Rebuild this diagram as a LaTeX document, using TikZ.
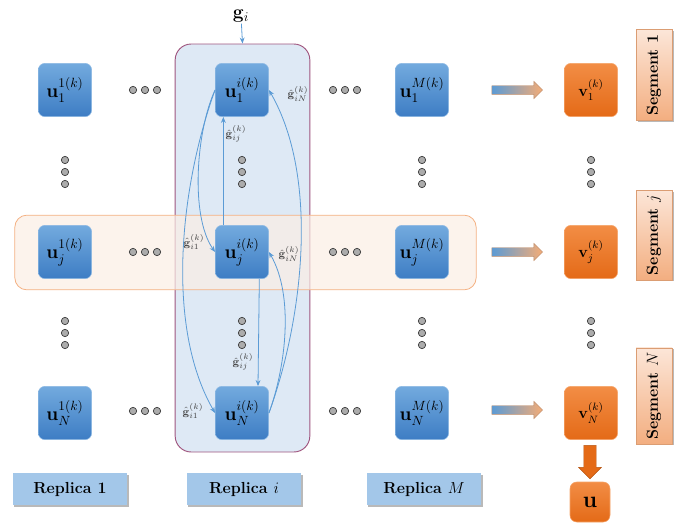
\documentclass[tikz,border=0pt]{standalone}
\usepackage{amsmath}
\usepackage{amssymb}
\usepackage{tikz}
\usetikzlibrary{arrows.meta,shapes.arrows,shadows}

\definecolor{ublueTop}{HTML}{73AADE}
\definecolor{ublueBot}{HTML}{3D7DC4}
\definecolor{ublueLine}{HTML}{8DB9E3}
\definecolor{vorTop}{HTML}{F28D45}
\definecolor{vorBot}{HTML}{E46A17}
\definecolor{repBlue}{HTML}{A3C7E9}
\definecolor{colBg}{HTML}{DEE9F5}
\definecolor{colLine}{HTML}{A0567F}
\definecolor{rowBg}{HTML}{FBEEE4}
\definecolor{rowLine}{HTML}{F4B183}
\definecolor{segLight}{HTML}{FCE6D8}
\definecolor{segDark}{HTML}{F3AE80}
\definecolor{linkBlue}{HTML}{5B9BD5}

\begin{document}
\begin{tikzpicture}[x=0.75pt, y=-0.75pt,
    ubox/.style = {rounded corners=5pt, minimum size=40pt, inner sep=0pt,
                   top color=ublueTop, bottom color=ublueBot, draw=ublueLine, font=\Large},
    vbox/.style = {rounded corners=5pt, minimum size=40pt, inner sep=0pt,
                   top color=vorTop, bottom color=vorBot, draw=vorTop!80!white, font=\large},
    repl/.style = {fill=repBlue, minimum width=86pt, minimum height=24pt, font=\large\bfseries,
                   drop shadow={shadow xshift=1pt, shadow yshift=-1.5pt, opacity=0.55}},
    seglab/.style = {rotate=90, minimum width=67pt, minimum height=27pt, font=\large\bfseries,
                     top color=segLight, bottom color=segDark, draw=segDark!90!black, line width=0.2pt,
                     drop shadow={shadow xshift=1.5pt, shadow yshift=-1pt, opacity=0.55}},
    dotnode/.style = {circle, minimum size=5.5pt, inner sep=0pt, fill=gray!65, draw=gray!45!black, line width=0.5pt},
    fatarrow/.style = {single arrow, minimum height=38pt, minimum width=13pt, inner sep=3pt,
                       single arrow head extend=3.2pt, left color=linkBlue, right color=rowLine!90!orange,
                       draw=rowLine!80!black, line width=0.3pt},
    link/.style = {draw=linkBlue, line width=0.6pt, -{Stealth[length=4.5pt, width=3.6pt]}},
    glab/.style = {font=\footnotesize, text=black!75}]

    \useasboundingbox (0,0) rectangle (694,525);

    % replica i column and segment j row
    \node[rounded corners=12pt, fill=colBg, draw=colLine, line width=0.7pt,
          minimum width=101pt, minimum height=306pt] (repbox) at (242.5,248) {};
    \node[rounded corners=9pt, fill=rowBg, fill opacity=0.7, draw=rowLine, line width=0.6pt,
          minimum width=346pt, minimum height=56pt] (rowj) at (245.5,252.5) {};

    \node[font = {\Large}, inner sep=1pt] (gi) at (241,16) {$\mathbf{g}_i$};
    \draw[link] (gi) -- (repbox.north);

    % replica nodes
    \node[ubox] (a1) at (65,90) {$\mathbf{u}_1^{1(k)}$};
    \node[ubox] (aj) at (65,252) {$\mathbf{u}_j^{1(k)}$};
    \node[ubox] (aN) at (65,413) {$\mathbf{u}_N^{1(k)}$};
    \node[ubox] (u1) at (242,90) {$\mathbf{u}_1^{i(k)}$};
    \node[ubox] (uj) at (242,252) {$\mathbf{u}_j^{i(k)}$};
    \node[ubox] (uN) at (242,413) {$\mathbf{u}_N^{i(k)}$};
    \node[ubox] (m1) at (422,90) {$\mathbf{u}_1^{M(k)}$};
    \node[ubox] (mj) at (422,252) {$\mathbf{u}_j^{M(k)}$};
    \node[ubox] (mN) at (422,413) {$\mathbf{u}_N^{M(k)}$};

    % segment results
    \node[vbox] (v1) at (591,90) {$\mathbf{v}_1^{(k)}$};
    \node[vbox] (vj) at (591,252) {$\mathbf{v}_j^{(k)}$};
    \node[vbox] (vN) at (591,413) {$\mathbf{v}_N^{(k)}$};
    \node[vbox, minimum size=30pt, font=\LARGE] (ufin) at (590,502) {$\mathbf{u}$};

    \node[fatarrow] (arr1) at (515,90) {};
    \node[fatarrow] (arrj) at (515,252) {};
    \node[fatarrow] (arrN) at (515,410) {};
    \node[single arrow, shape border rotate=270, minimum height=25pt, minimum width=17pt, inner sep=3.5pt,
          single arrow head extend=3pt, fill=vorBot, draw=vorBot!80!black, line width=0.3pt] (arrdown) at (590,459) {};

    % dots
    \foreach \dx/\dy [count=\n] in {145/90, 145/252, 145/411, 345/90, 345/252, 345/411}
        \foreach \k in {-1,0,1}
            \node[dotnode] (hd\n\k) at (\dx+12*\k,\dy) {};
    \foreach \dx/\dy [count=\n] in {65/172, 242/172, 422/172, 591/172, 65/333, 242/333, 422/333, 591/333}
        \foreach \k in {-1,0,1}
            \node[dotnode] (vd\n\k) at (\dx,\dy+12*\k) {};

    % exchanges inside replica i
    \draw[link] (u1.west) to[out=245, in=125, looseness=0.7] (uj.west);
    \draw[link] (u1.west) to[out=250, in=120, looseness=0.8] (uN.west);
    \draw[link] ([xshift=-14pt]uj.north) -- ([xshift=-14pt]u1.south);
    \draw[link] ([xshift=13pt]uj.south) -- ([xshift=12pt]uN.north);
    \draw[link] (uN.east) to[out=70, in=-60, looseness=0.8] (uj.east);
    \draw[link] (uN.east) to[out=70, in=-60, looseness=0.8] (u1.east);

    \node[glab] (g1N) at (298,94) {$\hat{\mathbf{g}}_{iN}^{(k)}$};
    \node[glab] (g1j) at (236,134) {$\hat{\mathbf{g}}_{ij}^{(k)}$};
    \node[glab] (gj1) at (194,242) {$\hat{\mathbf{g}}_{i1}^{(k)}$};
    \node[glab] (gjN) at (289,254) {$\hat{\mathbf{g}}_{iN}^{(k)}$};
    \node[glab] (gNj) at (243,362) {$\hat{\mathbf{g}}_{ij}^{(k)}$};
    \node[glab] (gN1) at (193,411) {$\hat{\mathbf{g}}_{i1}^{(k)}$};

    % labels
    \node[repl] (rep1) at (70,489) {Replica 1};
    \node[repl] (repi) at (244,489) {Replica $i$};
    \node[repl] (repM) at (424,489) {Replica $M$};

    \node[seglab] (seg1) at (654,75) {Segment 1};
    \node[seglab] (segj) at (654,235) {Segment $j$};
    \node[seglab] (segN) at (654,396) {Segment $N$};
\end{tikzpicture}
\end{document}
